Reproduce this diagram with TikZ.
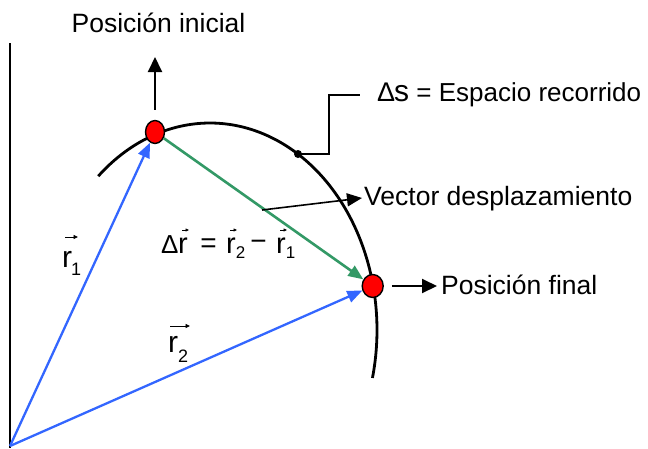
\documentclass[tikz,border=0pt]{standalone}
\usepackage{fontspec}
\setmainfont{Liberation Sans}
\usetikzlibrary{arrows.meta,shapes.geometric}
\definecolor{vblue}{RGB}{51,102,255}
\definecolor{vgreen}{RGB}{51,153,102}
\begin{document}
\begin{tikzpicture}[x=1pt,y=-1pt,
  txt/.style={inner sep=0pt, anchor=base west, font=\fontsize{26.5}{30}\selectfont},
  rlab/.style={inner sep=0pt, anchor=base west, font=\fontsize{30}{34}\selectfont},
  flab/.style={inner sep=0pt, anchor=base west, font=\fontsize{29}{33}\selectfont},
  fsym/.style={inner sep=0pt, anchor=center, font=\fontsize{28}{32}\selectfont},
  posdot/.style={ellipse, draw=black, line width=1.4pt, fill=red, minimum width=19pt, minimum height=23pt, inner sep=0pt},
  blkarrow/.style={line width=2pt, -{Triangle[length=15pt,width=14pt]}},
  bluarrow/.style={vblue, line width=2.3pt, -{Triangle[length=15pt,width=12pt]}},
  grnarrow/.style={vgreen, line width=2.6pt, -{Triangle[length=15pt,width=12pt]}},
  thinarrow/.style={line width=1.6pt, -{Triangle[length=15pt,width=13pt]}},
  vecarrow/.style={line width=0.9pt, -{Triangle[length=4.5pt,width=4pt]}},
  smallvec/.style={line width=0.7pt, -{Triangle[length=3.5pt,width=3pt]}},
  leader/.style={line width=1.8pt},
  arcline/.style={line width=2.8pt}
]
\useasboundingbox (0,0) rectangle (648,448);
% axis
\draw[line width=2pt] (10,43) -- (10,448);
% trajectory arc
\draw[arcline] plot[domain=-132:13.4, samples=120, smooth] ({210+167*cos(\x)},{330+207*sin(\x)});
% points
\coordinate (O) at (10,446);
\node[posdot] (p1) at (155,132) {};
\node[posdot, minimum width=21pt] (p2) at (372.7,286) {};
\node[circle, fill=black, inner sep=0pt, minimum size=8pt] (sdot) at (298,154) {};
% texts
\node[txt, anchor=base] (pini) at (158.5,32) {Posición inicial};
\node[txt] (pfin) at (441,294) {Posición final};
\node[txt] (vdes) at (364,205) {Vector desplazamiento};
\node[txt, font=\fontsize{26}{30}\selectfont] (esp) at (377,101) {{\fontsize{27}{30}\selectfont Δ}\kern-1pt{\fontsize{30}{34}\selectfont s} = Espacio recorrido};
% r labels
\node[rlab] (r1) at (62,267) {r\kern-1pt\raisebox{-8pt}{\fontsize{18}{20}\selectfont 1}};
\node[rlab] (r2) at (168,352) {r\raisebox{-10pt}{\fontsize{18}{20}\selectfont 2}};
\draw[vecarrow] ([shift={(3,-30)}]r1.base west) -- ([shift={(16,-30)}]r1.base west);
\draw[vecarrow] ([shift={(2,-26)}]r2.base west) -- ([shift={(22,-26)}]r2.base west);
% formula
\node[inner sep=0pt, anchor=base west, font=\fontsize{26}{29}\selectfont] (fD) at (161,253) {Δ};
\node[flab] (fr) at (178,253) {r};
\node[fsym] (feq) at (208.5,245.5) {=};
\node[flab] (fr2) at (226,253) {r\raisebox{-5pt}{\fontsize{17}{19}\selectfont 2}};
\node[fsym] (fmin) at (258.5,245.5) {−};
\node[flab] (fr1) at (276,253) {r\raisebox{-5pt}{\fontsize{17}{19}\selectfont 1}};
\draw[smallvec] ([shift={(4,-23)}]fr.base west) -- ([shift={(11,-23)}]fr.base west);
\draw[smallvec] ([shift={(4,-23)}]fr2.base west) -- ([shift={(11,-23)}]fr2.base west);
\draw[smallvec] ([shift={(4,-23)}]fr1.base west) -- ([shift={(11,-23)}]fr1.base west);
% vectors
\draw[bluarrow] (O) -- (p1);
\draw[bluarrow] (O) -- (p2);
\draw[grnarrow] (p1) -- (p2);
% black arrows
\coordinate (upend) at (155,57);
\draw[blkarrow] ([yshift=10pt]p1.north) -- (upend);
\draw[blkarrow, shorten >=4pt] ([xshift=8pt]p2.east) -- (pfin.west |- p2);
\coordinate (gm) at (262,210);
\draw[thinarrow] (gm) -- ([shift={(-2,-7)}]vdes.base west);
% leader to arc length label
\coordinate (ldend) at (360,95);
\draw[leader] (sdot.center) -- ++(31,0) |- (ldend);
\end{tikzpicture}
\end{document}
